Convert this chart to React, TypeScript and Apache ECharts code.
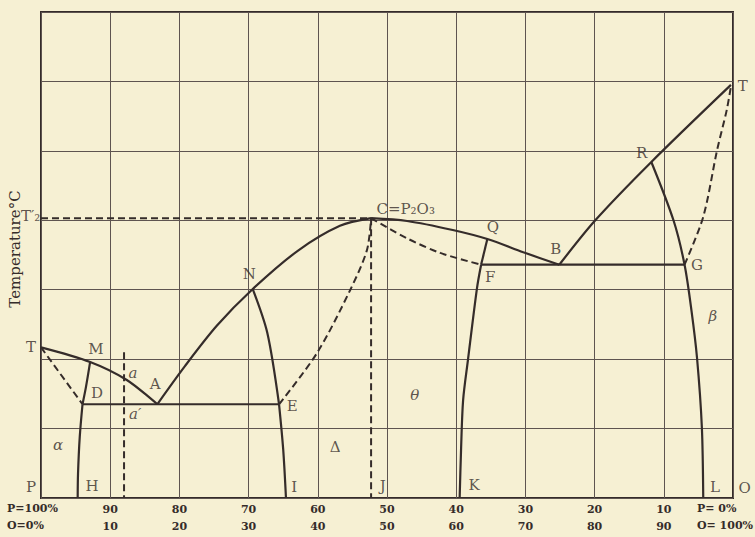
import React, { useEffect, useRef } from "react";
import * as echarts from "echarts";

// ---- axis ticks ----
const xTicks = [0, 10, 20, 30, 40, 50, 60, 70, 80, 90, 100];
const pLabels = ["P=100%", "90", "80", "70", "60", "50", "40", "30", "20", "10", "P= 0%"];
const oLabels = ["O=0%", "10", "20", "30", "40", "50", "60", "70", "80", "90", "O= 100%"];
const yTitle = "Temperature°C";

// ---- curves (x = O %, y = temperature grid units) ----
const curveTA = [[0, 2.17], [7.1, 1.96], [12.4, 1.7], [16.8, 1.35]];
const dashTD = [[0, 2.17], [6.0, 1.35]];
const curveMD = [[7.1, 1.96], [6.5, 1.6], [6.0, 1.35]];
const curveDH = [[6.0, 1.35], [5.6, 0.88], [5.35, 0.35], [5.3, 0]];
const lineDE = [[6.0, 1.35], [34.4, 1.35]];
const dashA = [[12.0, 2.1], [12.0, 0]];
const curveANC = [[16.8, 1.35], [20.8, 1.9], [25.4, 2.48], [30.6, 3.01], [37.1, 3.56], [43.2, 3.92], [47.7, 4.03]];
const curveNE = [[30.6, 3.01], [32.7, 2.38], [34.4, 1.35]];
const curveEI = [[34.4, 1.35], [35.0, 0.7], [35.4, 0]];
const dashEC = [[34.4, 1.35], [39.9, 2.09], [44.7, 3.0], [47.1, 3.57], [47.7, 4.03]];
const dashCJ = [[47.7, 4.03], [47.7, 0]];
const dashT2C = [[0, 4.03], [47.7, 4.03]];
const curveCQB = [[47.7, 4.03], [52.9, 3.99], [59.5, 3.86], [64.5, 3.73], [69.7, 3.54], [74.9, 3.36]];
const dashCF = [[47.7, 4.03], [52.9, 3.74], [57.7, 3.53], [63.6, 3.36]];
const lineQF = [[64.5, 3.73], [63.6, 3.36]];
const curveFK = [[63.6, 3.36], [63.0, 3.02], [61.7, 1.99], [61.0, 1.41], [60.7, 0.69], [60.5, 0]];
const lineFG = [[63.6, 3.36], [93.0, 3.36]];
const curveBRT = [[74.9, 3.36], [80.1, 4.0], [88.2, 4.84], [99.7, 5.95]];
const curveRGL = [[88.2, 4.84], [91.4, 4.0], [93.0, 3.36], [94.0, 2.7], [94.8, 2.02], [95.5, 1.02], [95.7, 0]];
const dashGT = [[93.0, 3.36], [95.7, 4.05], [97.7, 5.01], [99.1, 5.59], [99.7, 5.93]];

// ---- point / region labels [x, y, text, italic] ----
const pointLabels: [number, number, string, boolean][] = [
  [-1.45, 2.17, "T", false],
  [7.95, 2.15, "M", false],
  [8.1, 1.51, "D", false],
  [16.5, 1.64, "A", false],
  [13.3, 1.8, "a", true],
  [13.6, 1.21, "a′", true],
  [2.46, 0.76, "α", true],
  [7.37, 0.17, "H", false],
  [-1.45, 0.16, "P", false],
  [30.1, 3.23, "N", false],
  [36.3, 1.33, "E", false],
  [36.6, 0.16, "I", false],
  [42.5, 0.73, "Δ", false],
  [49.4, 0.17, "J", false],
  [54.0, 1.48, "θ", true],
  [52.7, 4.16, "C=P₂O₃", false],
  [65.3, 3.9, "Q", false],
  [74.4, 3.59, "B", false],
  [64.9, 3.18, "F", false],
  [62.6, 0.19, "K", false],
  [86.8, 4.97, "R", false],
  [101.4, 5.93, "T", false],
  [94.8, 3.36, "G", false],
  [97.1, 2.62, "β", true],
  [97.4, 0.16, "L", false],
  [101.7, 0.14, "O", false],
  [-1.5, 4.06, "T′₂", false],
];

const ink = "#352c2a";
const gridInk = "#5e5450";
const paper = "#f6f0d3";
const serif = "'DejaVu Serif', 'Liberation Serif', serif";

function curve(data: number[][], dashed = false, smooth: number | boolean = 0.3) {
  return {
    type: "line",
    data,
    symbol: "none",
    smooth,
    silent: true,
    clip: false,
    z: 3,
    lineStyle: {
      color: ink,
      width: dashed ? 2 : 2.2,
      type: dashed ? [7, 4] : "solid",
    },
  };
}

export default function App() {
  const ref = useRef<HTMLDivElement>(null);
  useEffect(() => {
    document.body.style.margin = "0";
    const chart = echarts.init(ref.current!, null, { renderer: "svg" });
    const option: any = {
      animation: false,
      backgroundColor: paper,
      grid: {
        left: 41,
        right: 22,
        top: 12,
        bottom: 39,
        containLabel: false,
        outerBoundsMode: "none",
        show: true,
        borderColor: ink,
        borderWidth: 2,
        backgroundColor: "transparent",
      },
      xAxis: {
        type: "value",
        min: 0,
        max: 100,
        interval: 10,
        axisLine: { show: false },
        axisTick: { show: false },
        splitLine: { show: true, lineStyle: { color: gridInk, width: 1 } },
        axisLabel: {
          margin: 3,
          fontFamily: serif,
          fontSize: 11,
          fontWeight: "bold",
          color: ink,
          lineHeight: 17,
          formatter: (v: number) => {
            const i = xTicks.indexOf(v);
            if (i <= 0 || i >= xTicks.length - 1) return "";
            return pLabels[i] + "\n" + oLabels[i];
          },
        },
      },
      yAxis: {
        type: "value",
        min: 0,
        max: 7,
        interval: 1,
        axisLine: { show: false },
        axisTick: { show: false },
        axisLabel: { show: false },
        splitLine: { show: true, lineStyle: { color: gridInk, width: 1 } },
        name: yTitle,
        nameLocation: "middle",
        nameGap: 19,
        nameRotate: 90,
        nameTextStyle: { fontFamily: serif, fontSize: 15, color: ink, padding: [0, 0, 0, 12] },
      },
      graphic: [
        {
          type: "text",
          left: 7,
          top: 500,
          style: {
            text: pLabels[0] + "\n" + oLabels[0],
            font: "bold 11px " + serif,
            fill: ink,
            lineHeight: 17,
          },
        },
        {
          type: "text",
          right: 2,
          top: 500,
          style: {
            text: pLabels[pLabels.length - 1] + "\n" + oLabels[oLabels.length - 1],
            font: "bold 11px " + serif,
            fill: ink,
            lineHeight: 17,
            align: "right",
          },
        },
      ],
      series: [
        curve(curveTA),
        curve(dashTD, true, false),
        curve(curveMD),
        curve(curveDH),
        curve(lineDE, false, false),
        curve(dashA, true, false),
        curve(curveANC),
        curve(curveNE),
        curve(curveEI),
        curve(dashEC, true),
        curve(dashCJ, true, false),
        curve(dashT2C, true, false),
        curve(curveCQB),
        curve(dashCF, true),
        curve(lineQF, false, false),
        curve(curveFK),
        curve(lineFG, false, false),
        curve(curveBRT),
        curve(curveRGL),
        curve(dashGT, true),
        {
          type: "scatter",
          silent: true,
          clip: false,
          symbolSize: 1,
          itemStyle: { color: "rgba(0,0,0,0)" },
          z: 5,
          data: pointLabels.map(([x, y, t, it]) => ({
            value: [x, y],
            name: t,
            label: {
              show: true,
              position: "inside",
              formatter: t,
              fontFamily: serif,
              fontSize: 15,
              fontStyle: it ? "italic" : "normal",
              color: ink,
            },
          })),
        },
      ],
    };
    chart.setOption(option);
    return () => chart.dispose();
  }, []);
  return (
    <div
      ref={ref}
      style={{ position: "absolute", left: 0, top: 0, width: 755, height: 537, background: paper }}
    />
  );
}
